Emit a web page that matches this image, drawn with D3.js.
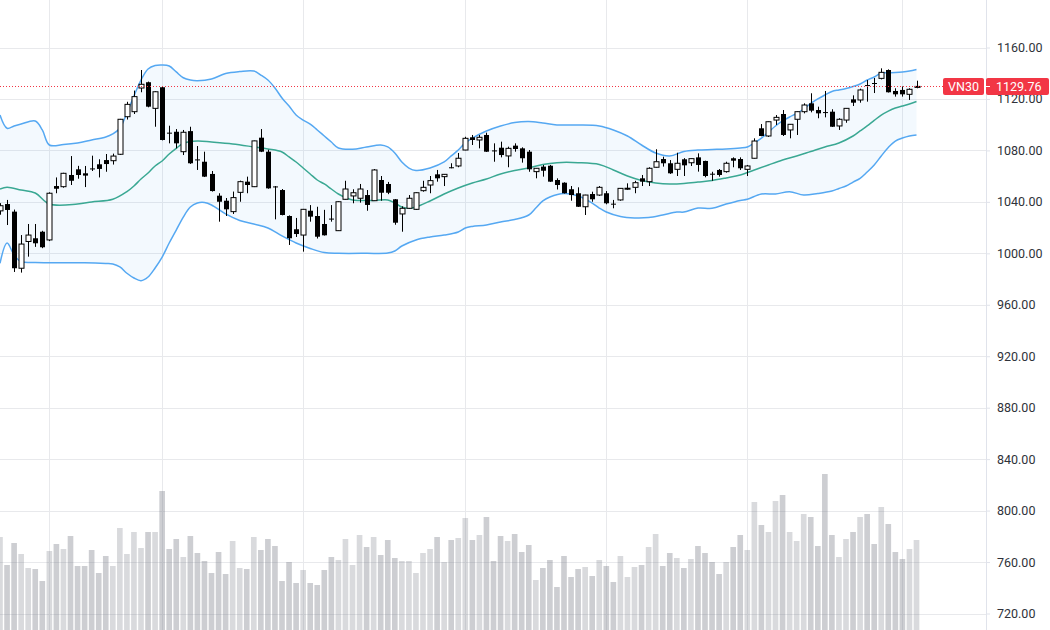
<!DOCTYPE html>
<html>
<head>
<meta charset="utf-8">
<script src="https://cdn.jsdelivr.net/npm/d3@7/dist/d3.min.js"></script>
<style>
  body { margin: 0; background: #fff; }
  svg { display: block; font-family: Roboto, "Open Sans", sans-serif; }
</style>
</head>
<body>
<svg id="chart" width="1050" height="630"></svg>
<script>
// daily candles, oldest first
const opens = [1033,1038.3,1032.4,988.4,1009.2,1011.7,1016.8,1010.4,1052.3,1051.8,1060.9,1065.3,1062.2,1066,1069.2,1072.5,1072,1077,1106.2,1110.1,
  1128.5,1133,1112.7,1129.1,1093.8,1094.5,1079,1095,1073,1071.2,1061.7,1044.8,1040.9,1032.4,1047.4,1055.7,1051.8,1089.9,1079,1052,
  1049.2,1029,1018.7,1014.2,1033.1,1029,1022.8,1027,1017.6,1042,1044.6,1042.8,1045.3,1040.9,1057,1053.9,1042,1030.6,1035,1034.2,
  1048.7,1053.1,1061.4,1059.6,1066.9,1067.9,1080.3,1090.2,1088.1,1092,1080,1082.1,1075.7,1083.7,1081.6,1079,1063.5,1067.4,1068.1,1057,
  1054.9,1049.8,1046.7,1036.2,1046.1,1045.3,1046.7,1038.6,1041.5,1050.3,1051.3,1058.3,1055.7,1066.9,1073.3,1070,1065.3,1073.1,1070.4,1074.6,
  1071.8,1061.9,1064.8,1063.5,1073.9,1073.3,1065.3,1073.9,1097.2,1091.2,1103.6,1108.3,1095.9,1104.2,1110.1,1116.6,1111.4,1109.8,1110.1,1099,
  1103.6,1119.7,1119.2,1130.8,1132.4,1136,1142.5,1126.2,1127,1123.6,1129.4];
const highs = [1039,1041.5,1034,1014.2,1022.8,1022.8,1017.5,1047.4,1059,1062.6,1075.6,1068,1067.9,1075.9,1073.1,1077.2,1077.5,1104.5,1117.8,1126.5,
  1142.5,1133.5,1126,1129.5,1099.2,1096.6,1095.9,1098.4,1083.4,1079,1064,1046.7,1043,1048,1056.5,1059.6,1087.6,1096.6,1080.5,1052.3,
  1050,1029.5,1027.5,1034.5,1037.5,1036.2,1033.8,1037.5,1040.4,1056.4,1049.8,1053.9,1049.2,1065.5,1060.1,1055.5,1042.2,1036.5,1045.3,1047.4,
  1056.4,1060.1,1064.8,1061.6,1070,1078,1090.6,1092,1092,1093.8,1085.5,1086.8,1082.9,1085.5,1082.4,1080.3,1066.3,1068.7,1068.7,1058.3,
  1055.2,1052.3,1051.3,1045.5,1047.9,1052.3,1048.4,1041.5,1050.7,1054.4,1056.4,1060.9,1066.9,1080.9,1075.1,1072.5,1078.2,1074,1073.8,1077.7,
  1072,1063.4,1065.5,1071.2,1074.6,1074.6,1068.7,1089.4,1100.5,1102.5,1107.5,1111.4,1100.5,1110.3,1116.6,1124.4,1114,1126.2,1112,1105,
  1112.9,1122.8,1128,1134.7,1136.3,1143.8,1143,1128.3,1129.7,1128.3,1134.2];
const lows = [1030,1022,985.5,985,997.4,1005,1004,1009.5,1046.7,1051,1053.1,1058,1051.5,1064,1059,1063.4,1069,1076.5,1104,1108.3,
  1125.2,1113.5,1098.4,1087.8,1085.5,1081.6,1076.4,1069.5,1064.8,1059.3,1048,1024.6,1029,1030.6,1040.1,1046.7,1051.5,1078.7,1050.2,1026.4,
  1029.5,1006.5,1012.7,1001.3,1024.6,1011.5,1013.8,1024.6,1017.4,1041.8,1038.9,1039.4,1033.1,1040.7,1040.9,1046,1022.2,1016.8,1034.5,1033.8,
  1047.9,1046.7,1055.7,1052.3,1066.1,1066.9,1080.1,1084.2,1081.6,1078.8,1071.2,1074.6,1066.9,1079,1070.5,1063.4,1058.3,1059.6,1055.5,1049.6,
  1046.5,1040.9,1036,1029.8,1040.1,1044.6,1038.1,1035,1040.9,1049.2,1046.7,1052.3,1052.3,1066.7,1067.4,1061.7,1060.1,1060.1,1067.9,1063.5,
  1059.1,1056.4,1059.6,1062.7,1066.9,1064.8,1060.1,1073.7,1091,1090.5,1099.8,1091.2,1089.4,1092,1108.8,1109.6,1105,1105.7,1098.2,1095.9,
  1101.5,1114.5,1117.1,1117.9,1124.6,1135.2,1125,1121.8,1121.8,1119.2,1128.3];
const closes = [1037,1033.7,988.4,1007.2,1014.2,1007.8,1004.7,1046.7,1050.2,1062.2,1056.4,1060.9,1060.4,1065.6,1065.6,1069.4,1075.6,1104.2,1115.8,1121.8,
  1131.4,1114,1125.6,1088.1,1093.3,1085.5,1094.1,1070,1072.5,1059.6,1048.4,1040.1,1034.2,1043.3,1055.7,1053.1,1087.4,1079,1050.5,1051.3,
  1029.8,1011.7,1015,1034.2,1028.5,1012.9,1014,1026.5,1040.1,1050,1047.1,1050,1037.6,1064.8,1047.1,1047.1,1023.8,1035,1042.8,1047.1,
  1051.3,1056.5,1058.3,1061.4,1066.6,1073.9,1089.4,1088.1,1090.2,1079,1079.8,1076.4,1081.6,1081.1,1073.9,1065.3,1066.1,1064.2,1055.7,1053.1,
  1046.7,1045.3,1036.2,1045.3,1042,1051.3,1038.9,1038.3,1050.5,1050.6,1054.9,1055.7,1066.1,1071.2,1070,1062.2,1070,1068.4,1073.6,1068.7,
  1060.1,1061.7,1060.9,1070,1072,1066.1,1067.9,1087.3,1091.2,1102.3,1105.7,1092,1100.3,1110.1,1115.3,1110.9,1108.8,1109.4,1098.4,1104.2,
  1112.7,1117.1,1127,1130.5,1132,1140.7,1125.2,1123.6,1123.6,1127.5,1129.76];
const volumes = [93,65,87,76,62,61,49,79,86,81,94,64,64,80,57,74,64,102,76,98,
  82,98,98,139,81,91,73,94,77,69,57,78,56,89,62,61,93,80,91,84,
  49,68,47,60,47,45,60,73,70,91,65,95,83,93,75,90,72,69,69,57,
  77,81,93,68,90,92,112,90,95,113,69,94,89,96,78,85,50,62,70,43,
  74,53,61,63,54,70,64,48,74,53,63,65,83,96,64,77,72,62,71,84,
  77,68,56,68,83,95,80,128,105,98,129,135,98,89,116,113,84,156,95,73,
  91,98,113,116,86,123,106,78,71,81,90];

// Bollinger bands: [candle index, price]
const upperBand = [[0,1107.5],[1,1097.2],[2,1099],[3,1100.5],[5,1102.9],[6,1095.9],[7,1084.2],[9,1084.6],[11,1085.8],[13,1088.1],
  [15,1090.4],[16,1092.8],[17,1097.2],[18,1109.1],[19,1122.3],[20,1134.7],[21,1143.3],[22,1146],[23,1146.4],[24,1145.6],[25,1141],
  [26,1136.5],[27,1134.7],[28,1134.2],[30,1135.5],[32,1139.8],[34,1141.3],[36,1141.7],[37,1138.6],[38,1134.7],[39,1128.5],[40,1120.7],
  [41,1114.5],[42,1107.5],[43,1103.6],[44,1100.5],[45,1095.9],[46,1091.2],[47,1086.5],[48,1081.9],[50,1080.9],[52,1082.7],[54,1084.2],
  [55,1082.7],[56,1078],[57,1071],[58,1066.3],[59,1064.4],[61,1066.3],[63,1071],[64,1075.7],[65,1080.3],[66,1085.8],[67,1089.6],
  [69,1095.1],[71,1099],[73,1101.7],[75,1102.5],[77,1101.3],[79,1099.8],[82,1099.8],[85,1099],[87,1095.9],[89,1091.2],[91,1084.2],
  [93,1078],[95,1075.7],[97,1079.2],[99,1080.3],[101,1080.7],[103,1081.1],[105,1081.9],[106,1082.7],[107,1085.8],[108,1089.6],
  [109,1094.3],[110,1099],[111,1102.9],[112,1106],[113,1108.7],[114,1112.2],[115,1116.5],[116,1120],[117,1123.1],[118,1125.8],
  [119,1127],[120,1128.1],[121,1129.7],[122,1131.6],[123,1134.7],[124,1137.1],[125,1140.2],[126,1140.4],[127,1140.6],[128,1141],
  [129,1141.7],[130,1142.9]];
const basisBand = [[0,1050],[1,1051.3],[3,1049.2],[5,1046.9],[7,1038.3],[11,1038.3],[13,1039.9],[16,1042],[18,1047.9],[19,1052.3],
  [20,1057.8],[21,1062.4],[22,1067.9],[23,1071.8],[24,1077.2],[25,1081.6],[26,1085.5],[28,1087.3],[30,1086.5],[33,1085],[36,1082.7],
  [38,1081.1],[40,1078.8],[41,1074.9],[42,1071],[43,1066.3],[44,1061.7],[45,1057],[46,1053.9],[47,1050],[48,1046.1],[49,1043.4],
  [50,1041.5],[53,1041.1],[55,1041.5],[56,1039.1],[57,1036],[58,1035],[59,1036],[61,1040.7],[63,1046.1],[65,1050.8],[67,1054.7],
  [69,1057.8],[71,1061.7],[73,1064.4],[75,1066.3],[77,1069.1],[79,1070.5],[82,1070.5],[85,1069.1],[87,1064.8],[89,1060.1],[91,1056.6],
  [93,1054.7],[95,1053.9],[97,1054.3],[99,1055.4],[101,1056.6],[103,1058.6],[105,1060.9],[107,1064.8],[109,1068.7],[111,1072.5],
  [113,1075.7],[115,1079.2],[117,1082.7],[119,1085.8],[121,1091.2],[122,1095.1],[123,1099],[124,1103.3],[125,1107.5],[126,1110.6],
  [127,1113],[128,1114.5],[129,1116.1],[130,1118]];
const lowerBand = [[0,992.2],[1,1008],[2,998.7],[3,993.5],[5,992.9],[9,992.7],[12,992.7],[15,992.1],[16,991.7],[17,989.4],[18,984.5],
  [19,980.8],[20,978.7],[21,981.6],[22,988.6],[23,997.1],[24,1008],[25,1018.1],[26,1028.2],[27,1036],[28,1039.1],[29,1039.5],
  [30,1037.6],[32,1030.6],[34,1025.5],[36,1022.8],[38,1019.7],[40,1013.5],[42,1008],[44,1003.8],[46,1000.6],[48,1000],[52,1000],
  [55,1000.2],[56,1001.8],[57,1005.7],[59,1010.4],[61,1012.7],[63,1014.2],[65,1016.6],[66,1019.7],[67,1020.9],[69,1022],[71,1024.4],
  [73,1026.3],[75,1029.8],[76,1035.2],[77,1040.7],[78,1043.8],[80,1046.5],[82,1044.6],[84,1039.1],[85,1035.2],[86,1032.1],[88,1028.6],
  [90,1027.5],[92,1027.8],[94,1029.8],[96,1032.1],[97,1032.1],[99,1035.2],[101,1035],[103,1038.3],[105,1041.1],[106,1042],[108,1046.1],
  [110,1046.1],[112,1047.9],[114,1045.3],[116,1046.5],[118,1048.4],[119,1050.4],[120,1052.3],[121,1055.4],[122,1058.3],[123,1063.2],
  [124,1068.7],[125,1075.7],[126,1082.3],[127,1087.3],[128,1089.6],[129,1091.2],[130,1092]];

const priceTicks = [720, 760, 800, 840, 880, 920, 960, 1000, 1040, 1080, 1120, 1160];
const monthStarts = [7, 23, 43, 66, 86, 106, 128];
const symbol = "VN30";
const lastPrice = 1129.76;

const W = 1050, H = 630;
const plotRight = 986;

const svg = d3.select("#chart");

const x = d3.scaleLinear().domain([0, opens.length - 1]).range([0, (opens.length - 1) * 7.05]);
const y = d3.scaleLinear().domain([720, 1160]).range([613.5, 47.5]);
const vol = d3.scaleLinear().domain([0, 156]).range([H, H - 156]);
const step = x(1) - x(0);

svg.append("rect").attr("width", W).attr("height", H).attr("fill", "#fff");

svg.append("defs").html(`
  <clipPath id="plot"><rect x="0" y="0" width="${plotRight}" height="${H}"/></clipPath>
`);

// grid
const grid = svg.append("g").attr("stroke", "#e8e9ec").attr("stroke-width", 1);
grid.selectAll("line.h")
  .data(priceTicks)
  .enter()
  .append("line")
  .attr("x1", 0).attr("x2", plotRight)
  .attr("y1", d => Math.round(y(d)) + 0.5)
  .attr("y2", d => Math.round(y(d)) + 0.5);
grid.selectAll("line.v")
  .data(monthStarts)
  .enter()
  .append("line")
  .attr("x1", d => Math.round(x(d)) + 0.5)
  .attr("x2", d => Math.round(x(d)) + 0.5)
  .attr("y1", 0).attr("y2", H);

const plot = svg.append("g").attr("clip-path", "url(#plot)");

// volume
plot.append("g")
  .selectAll("rect")
  .data(volumes)
  .enter()
  .append("rect")
  .attr("x", (d, i) => x(i) - step * 0.4)
  .attr("width", step * 0.8)
  .attr("y", d => vol(d))
  .attr("height", d => vol(0) - vol(d))
  .attr("fill", (d, i) => closes[i] >= opens[i] ? "rgba(120,123,134,0.28)" : "rgba(120,123,134,0.37)");

// bollinger bands
const bandLine = d3.line()
  .x(d => x(d[0]))
  .y(d => y(d[1]))
  .curve(d3.curveCatmullRom.alpha(0.5));

const fillPath = bandLine(upperBand) + bandLine(lowerBand.slice().reverse()).replace(/^M/, "L") + "Z";
plot.append("path")
  .attr("d", fillPath)
  .attr("fill", "#2196f3")
  .attr("fill-opacity", 0.055);

plot.append("path").attr("d", bandLine(upperBand))
  .attr("fill", "none").attr("stroke", "#55a8f2").attr("stroke-width", 1.5);
plot.append("path").attr("d", bandLine(lowerBand))
  .attr("fill", "none").attr("stroke", "#55a8f2").attr("stroke-width", 1.5);
plot.append("path").attr("d", bandLine(basisBand))
  .attr("fill", "none").attr("stroke", "#3aa893").attr("stroke-width", 1.5);

// candles
const candles = plot.append("g")
  .selectAll("g")
  .data(opens)
  .enter()
  .append("g");

candles.append("line")
  .attr("x1", (d, i) => Math.round(x(i)) + 0.5)
  .attr("x2", (d, i) => Math.round(x(i)) + 0.5)
  .attr("y1", (d, i) => y(highs[i]))
  .attr("y2", (d, i) => y(lows[i]))
  .attr("stroke", "#000")
  .attr("stroke-width", 1);

candles.append("rect")
  .attr("x", (d, i) => Math.round(x(i)) - 2 + 0.5 - 0.5)
  .attr("width", 5)
  .attr("y", (d, i) => y(Math.max(opens[i], closes[i])))
  .attr("height", (d, i) => Math.max(1, Math.abs(y(opens[i]) - y(closes[i]))))
  .attr("fill", (d, i) => closes[i] >= opens[i] ? "#fff" : "#000")
  .attr("stroke", "#000")
  .attr("stroke-width", (d, i) => closes[i] >= opens[i] ? 1 : 0);

// last price line
svg.append("line")
  .attr("x1", 0).attr("x2", 943)
  .attr("y1", Math.round(y(lastPrice)) + 0.5)
  .attr("y2", Math.round(y(lastPrice)) + 0.5)
  .attr("stroke", "#f23645")
  .attr("stroke-width", 1)
  .attr("stroke-dasharray", "1 2");

// price axis
svg.append("line")
  .attr("x1", plotRight + 0.5).attr("x2", plotRight + 0.5)
  .attr("y1", 0).attr("y2", H)
  .attr("stroke", "#e0e3eb");

const axis = svg.append("g")
  .attr("transform", `translate(${plotRight},0)`)
  .call(d3.axisRight(y).tickValues(priceTicks).tickFormat(d3.format(".2f")).tickSize(4).tickPadding(7));
axis.select(".domain").remove();
axis.selectAll(".tick line").attr("stroke", "#e0e3eb");
axis.selectAll(".tick text")
  .attr("fill", "#2f323a")
  .attr("font-size", 12.5)
  .attr("font-family", "Roboto, 'Open Sans', sans-serif");

// last price labels
const ly = y(lastPrice);
const tag = svg.append("g");
tag.append("rect")
  .attr("x", 943).attr("y", ly - 8.5).attr("width", 41).attr("height", 17).attr("rx", 2)
  .attr("fill", "#f23645");
tag.append("text")
  .attr("x", 963.5).attr("y", ly + 4.3)
  .attr("text-anchor", "middle")
  .attr("fill", "#fff").attr("font-size", 12.5)
  .text(symbol);
tag.append("rect")
  .attr("x", 986).attr("y", ly - 8.5).attr("width", 63).attr("height", 17).attr("rx", 2)
  .attr("fill", "#f23645");
tag.append("line")
  .attr("x1", 986).attr("x2", 990)
  .attr("y1", Math.round(ly) + 0.5).attr("y2", Math.round(ly) + 0.5)
  .attr("stroke", "#fff");
tag.append("text")
  .attr("x", 996).attr("y", ly + 4.3)
  .attr("fill", "#fff").attr("font-size", 12.5)
  .text(d3.format(".2f")(lastPrice));
</script>
</body>
</html>
